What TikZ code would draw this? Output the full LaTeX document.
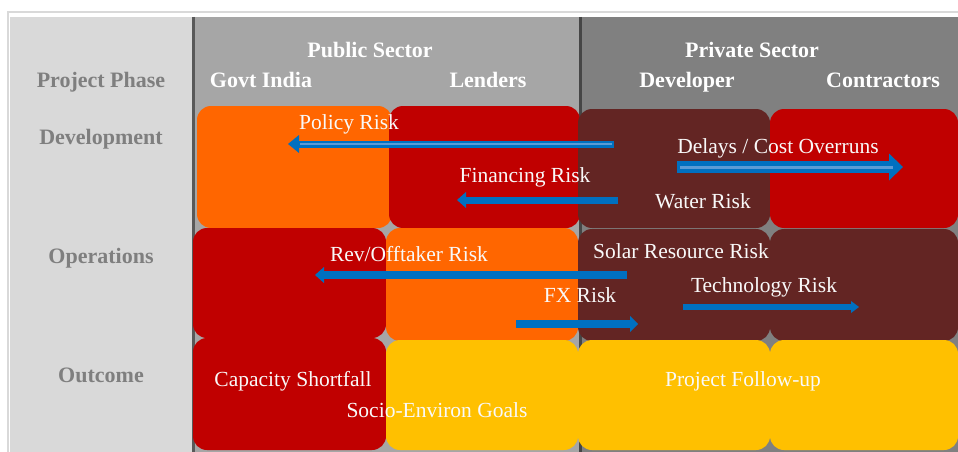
\documentclass[tikz,border=0pt]{standalone}
\usepackage{fontspec}
\setmainfont{Liberation Serif}
\usepackage{xcolor}
\usepackage{tikz}
\usetikzlibrary{arrows.meta}

\definecolor{phasegray}{HTML}{D9D9D9}
\definecolor{publicgray}{HTML}{A6A6A6}
\definecolor{privategray}{HTML}{808080}
\definecolor{labelgray}{HTML}{7F7F7F}
\definecolor{riskorange}{HTML}{FF6600}
\definecolor{riskred}{HTML}{C00000}
\definecolor{riskbrown}{HTML}{632523}
\definecolor{riskyellow}{HTML}{FFC000}
\definecolor{arrowblue}{HTML}{0070C0}
\definecolor{stripeblue}{HTML}{5B9BD5}

\tikzset{
	head/.style={font=\fontsize{22}{24}\selectfont\bfseries,text=white,anchor=base},
	phase/.style={font=\fontsize{22}{24}\selectfont\bfseries,text=labelgray,anchor=base},
	risk/.style={font=\fontsize{21.5}{24}\selectfont,text=white!95!gray,anchor=base},
	riskbox/.style={rounded corners=14pt},
	riskarrow/.style n args={3}{draw=arrowblue,line width=#1,-{Triangle[width=#2,length=#3,line width=0pt]}},
	stripe/.style={draw=stripeblue,line width=#1},
}

\begin{document}
\begin{tikzpicture}[x=1pt,y=-1pt]
	\useasboundingbox (0,0) rectangle (958,452);
	\draw[gray!30,line width=1.5pt] (8,12) rectangle (975,470);
	\fill[phasegray] (10,17) rectangle (192,452);
	\fill[publicgray] (192,17) rectangle (580,452);
	\fill[privategray] (580,17) rectangle (958,452);
	\draw[gray!70!black,line width=2.5pt] (193.5,17) -- (193.5,452);
	\draw[gray!55!black,line width=2.5pt] (580.5,17) -- (580.5,452);
	\foreach \xa/\ya/\xb/\yb/\c in {197/106/392/228/riskorange, 389/106/580/228/riskred,
		578/109/770/228/riskbrown, 770/109/958/228/riskred,
		193/228/386/338/riskred, 386/228/578/341/riskorange,
		578/229/770/341/riskbrown, 770/229/958/341/riskbrown,
		193/338/386/450/riskred, 386/340/578/450/riskyellow,
		578/340/770/450/riskyellow, 770/340/958/450/riskyellow}
	\fill[\c,riskbox] (\xa,\ya) rectangle (\xb,\yb);
	\node[head] (public) at (370,57) {Public Sector};
	\node[head] (private) at (752,57) {Private Sector};
	\foreach \name/\x [count=\i] in {Govt India/261, Lenders/488, Developer/687, Contractors/883}
	\node[head] (actor\i) at (\x,87) {\name};
	\foreach \name/\y [count=\i] in {Project Phase/87, Development/144, Operations/263, Outcome/382}
	\node[phase] (phase\i) at (101,\y) {\name};
		\node[risk] (policy) at (349,129) {Policy Risk};
		\node[risk] (financing) at (525,182) {Financing Risk};
		\node[risk] (water) at (703,208) {Water Risk};
		\node[risk] (delays) at (778,153) {Delays / Cost Overruns};
		\node[risk] (revenue) at (409,261) {Rev/Offtaker Risk};
		\node[risk] (solar) at (681,258) {Solar Resource Risk};
		\node[risk] (fx) at (580,302) {FX Risk};
		\node[risk] (technology) at (764,292) {Technology Risk};
		\node[risk] (capacity) at (293,386) {Capacity Shortfall};
		\node[risk] (socio) at (437,417) {Socio-Environ Goals};
		\node[risk] (followup) at (743,386) {Project Follow-up};
	\coordinate (policy from) at (614,144);
	\coordinate (policy to) at (288,144);
	\coordinate (financing from) at (618,200);
	\coordinate (financing to) at (457,200);
	\coordinate (delays from) at (677,167);
	\coordinate (delays to) at (903,167);
	\coordinate (revenue from) at (627,275);
	\coordinate (revenue to) at (315,275);
	\coordinate (fx from) at (516,324);
	\coordinate (fx to) at (638,324);
	\coordinate (technology from) at (683,307);
	\coordinate (technology to) at (859,307);
	\draw[riskarrow={7pt}{18pt}{11pt}] (policy from) -- (policy to);
	\draw[stripe=1.5pt,shorten <=2pt,shorten >=12pt] (policy from) -- (policy to);
	\draw[riskarrow={7pt}{16pt}{9pt}] (financing from) -- (financing to);
	\draw[riskarrow={12pt}{27pt}{14pt}] (delays from) -- (delays to);
	\draw[stripe=3pt,shorten <=3pt,shorten >=10pt] (delays from) -- (delays to);
	\draw[riskarrow={8pt}{16pt}{9pt}] (revenue from) -- (revenue to);
	\draw[riskarrow={8pt}{16pt}{8pt}] (fx from) -- (fx to);
	\draw[riskarrow={6pt}{12pt}{8pt}] (technology from) -- (technology to);
\end{tikzpicture}
\end{document}
